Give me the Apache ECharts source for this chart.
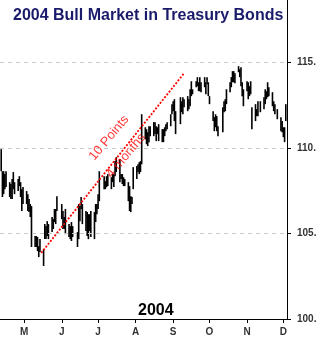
<!DOCTYPE html>
<html>
<head>
<meta charset="utf-8">
<script src="https://cdn.jsdelivr.net/npm/echarts@6/dist/echarts.min.js"></script>
<style>
  html, body { margin: 0; padding: 0; background: #fff; }
  #chart { width: 316px; height: 339px; }
</style>
</head>
<body>
<div id="chart"></div>
<script>
// --- data ---
const titleText = '2004 Bull Market in Treasury Bonds';
const yearText = '2004';
const monthStarts = ['2004-05-01', '2004-06-01', '2004-07-01', '2004-08-01', '2004-09-01', '2004-10-01', '2004-11-01', '2004-12-01'];
const monthLetters = ['J', 'F', 'M', 'A', 'M', 'J', 'J', 'A', 'S', 'O', 'N', 'D'];
const priceTicks = [100, 105, 110, 115];
const gridLevels = [105, 110, 115];

// daily bars: [date, low, high]
const bars = [
  ['2004-04-12', 108.64, 109.93], ['2004-04-13', 107.13, 108.64], ['2004-04-14', 107.30, 108.64], ['2004-04-15', 107.59, 108.47], ['2004-04-16', 107.71, 108.64],
  ['2004-04-19', 107.13, 108.00], ['2004-04-20', 107.01, 107.89], ['2004-04-21', 107.01, 108.18], ['2004-04-22', 107.59, 108.59], ['2004-04-23', 107.30, 108.00],
  ['2004-04-26', 107.48, 108.18], ['2004-04-27', 107.77, 108.35], ['2004-04-28', 107.13, 108.00], ['2004-04-29', 106.31, 107.59], ['2004-04-30', 106.72, 107.71],
  ['2004-05-03', 106.72, 107.48], ['2004-05-04', 106.31, 107.30], ['2004-05-05', 106.25, 107.01], ['2004-05-06', 105.96, 106.72], ['2004-05-07', 104.21, 106.60],
  ['2004-05-10', 104.21, 104.85], ['2004-05-11', 104.21, 104.85], ['2004-05-12', 103.97, 104.79], ['2004-05-13', 103.62, 104.26], ['2004-05-14', 103.91, 104.67],
  ['2004-05-17', 103.10, 104.09], ['2004-05-18', 104.67, 105.55], ['2004-05-19', 104.67, 105.43], ['2004-05-20', 104.85, 105.72], ['2004-05-21', 104.67, 105.55],
  ['2004-05-24', 105.08, 105.96], ['2004-05-25', 105.26, 105.84], ['2004-05-26', 105.67, 106.43], ['2004-05-27', 105.55, 106.43], ['2004-05-28', 106.31, 107.18],
  ['2004-06-01', 105.84, 106.72], ['2004-06-02', 105.26, 106.31], ['2004-06-03', 105.26, 105.96], ['2004-06-04', 104.96, 106.43],
  ['2004-06-07', 104.79, 105.55], ['2004-06-08', 104.67, 105.43], ['2004-06-09', 104.56, 105.67], ['2004-06-10', 104.79, 105.43],
  ['2004-06-14', 104.21, 105.08], ['2004-06-15', 104.67, 106.72], ['2004-06-16', 105.72, 106.60], ['2004-06-17', 106.43, 107.13], ['2004-06-18', 105.55, 106.72],
  ['2004-06-21', 105.14, 106.31], ['2004-06-22', 104.85, 106.25], ['2004-06-23', 104.67, 106.13], ['2004-06-24', 105.14, 106.13], ['2004-06-25', 104.79, 106.31],
  ['2004-06-28', 104.67, 106.25], ['2004-06-29', 105.67, 106.72], ['2004-06-30', 106.13, 106.72], ['2004-07-01', 106.43, 107.30], ['2004-07-02', 106.89, 108.64],
  ['2004-07-06', 107.59, 108.35], ['2004-07-07', 107.59, 108.06], ['2004-07-08', 107.71, 108.35], ['2004-07-09', 107.77, 108.47],
  ['2004-07-12', 107.59, 108.29], ['2004-07-13', 108.00, 108.47], ['2004-07-14', 107.71, 108.47], ['2004-07-15', 108.35, 109.23], ['2004-07-16', 108.59, 109.46],
  ['2004-07-19', 108.00, 109.35], ['2004-07-20', 108.18, 108.47], ['2004-07-21', 107.89, 108.47], ['2004-07-22', 107.77, 108.29], ['2004-07-23', 107.77, 108.18],
  ['2004-07-26', 106.89, 108.00], ['2004-07-27', 106.31, 107.77], ['2004-07-28', 106.25, 107.18], ['2004-07-29', 106.72, 107.13], ['2004-07-30', 107.59, 108.88],
  ['2004-08-02', 108.18, 108.94], ['2004-08-03', 108.59, 109.05], ['2004-08-04', 108.47, 109.17], ['2004-08-05', 108.59, 109.23], ['2004-08-06', 109.05, 111.97],
  ['2004-08-09', 110.51, 111.21], ['2004-08-10', 110.22, 111.10], ['2004-08-11', 110.11, 110.92], ['2004-08-12', 110.34, 111.27], ['2004-08-13', 110.69, 111.27],
  ['2004-08-16', 110.69, 111.51], ['2004-08-17', 110.81, 111.51], ['2004-08-18', 110.40, 111.27], ['2004-08-19', 110.81, 111.21], ['2004-08-20', 110.40, 111.39],
  ['2004-08-23', 110.34, 111.10], ['2004-08-24', 110.34, 111.10], ['2004-08-25', 110.69, 111.21], ['2004-08-26', 110.98, 111.39], ['2004-08-27', 111.10, 111.51],
  ['2004-08-30', 111.27, 111.97], ['2004-08-31', 111.97, 112.56], ['2004-09-01', 112.15, 112.73], ['2004-09-02', 111.57, 112.85], ['2004-09-03', 110.81, 112.15],
  ['2004-09-07', 111.39, 112.97], ['2004-09-08', 112.09, 112.73], ['2004-09-09', 111.97, 112.97], ['2004-09-10', 112.38, 112.85],
  ['2004-09-13', 112.15, 113.03], ['2004-09-14', 112.27, 112.85], ['2004-09-15', 112.44, 113.43], ['2004-09-16', 113.03, 113.90], ['2004-09-17', 113.14, 113.43],
  ['2004-09-20', 113.55, 113.90], ['2004-09-21', 113.61, 114.14], ['2004-09-22', 113.32, 113.84], ['2004-09-23', 113.32, 114.14], ['2004-09-24', 113.26, 113.84],
  ['2004-09-27', 113.55, 114.14], ['2004-09-28', 113.14, 113.84], ['2004-09-29', 113.73, 114.14], ['2004-09-30', 113.03, 113.84], ['2004-10-01', 112.56, 113.03],
  ['2004-10-04', 111.57, 112.15], ['2004-10-05', 110.98, 111.80], ['2004-10-06', 111.21, 111.97], ['2004-10-07', 110.98, 111.86], ['2004-10-08', 110.69, 111.27],
  ['2004-10-12', 110.92, 112.38], ['2004-10-13', 112.09, 112.73], ['2004-10-14', 112.15, 112.85], ['2004-10-15', 112.56, 113.43],
  ['2004-10-18', 113.26, 113.84], ['2004-10-19', 113.55, 114.14], ['2004-10-20', 113.84, 114.49], ['2004-10-21', 113.84, 114.49], ['2004-10-22', 113.79, 114.37],
  ['2004-10-25', 114.43, 114.78], ['2004-10-26', 114.14, 114.60], ['2004-10-27', 113.61, 114.72], ['2004-10-28', 113.03, 113.84], ['2004-10-29', 112.44, 113.43],
  ['2004-11-01', 113.32, 113.90], ['2004-11-02', 112.85, 113.84], ['2004-11-03', 113.03, 113.61], ['2004-11-04', 113.14, 113.90], ['2004-11-05', 111.10, 112.38],
  ['2004-11-08', 111.57, 112.56], ['2004-11-09', 111.86, 112.27], ['2004-11-10', 111.86, 112.73], ['2004-11-12', 112.09, 112.73],
  ['2004-11-15', 112.27, 112.97], ['2004-11-16', 112.56, 113.43], ['2004-11-17', 112.85, 113.32], ['2004-11-18', 112.97, 113.84], ['2004-11-19', 113.03, 113.55],
  ['2004-11-22', 112.44, 113.26], ['2004-11-23', 112.15, 112.73], ['2004-11-24', 111.97, 112.56], ['2004-11-26', 111.68, 112.27],
  ['2004-11-29', 110.98, 111.80], ['2004-11-30', 110.92, 111.57], ['2004-12-01', 110.63, 111.21], ['2004-12-02', 110.34, 111.21], ['2004-12-03', 111.57, 112.56]
];

// the red "10 points in 4 months" trend line and its notes
const trendLine = [['2004-05-15', 103.86], ['2004-09-10', 114.37]];
const notes = [['2004-07-10', 110.58, '10 Points'], ['2004-07-24', 109.55, '4 months']];

const font = 'Liberation Sans, Arial, sans-serif';
const toTime = s => echarts.time.parse(s).getTime();

const chart = echarts.init(document.getElementById('chart'));

chart.setOption({
  animation: false,
  backgroundColor: '#fff',
  title: [
    {
      text: titleText, left: 13, top: 8, padding: 0,
      textStyle: { fontFamily: font, fontSize: 16, fontWeight: 'bold', color: '#1b1b6b' }
    },
    {
      text: yearText, left: 138, top: 303, padding: 0,
      textStyle: { fontFamily: font, fontSize: 16, fontWeight: 'bold', color: '#000' }
    }
  ],
  // labels on the right run off the edge, as in the original
  grid: { left: 0, right: 29, top: 0, bottom: 20, containLabel: false, outerBoundsMode: 'none' },
  xAxis: {
    // dates as timestamps on a value axis so the month ticks can be placed exactly
    type: 'value',
    min: toTime('2004-04-11'),
    max: toTime('2004-12-04'),
    axisLine: { lineStyle: { color: '#000', width: 1 } },
    axisTick: { length: 4, lineStyle: { color: '#000' }, customValues: monthStarts.map(toTime) },
    axisLabel: {
      customValues: monthStarts.map(toTime),
      margin: 8,
      fontFamily: font, fontSize: 10, fontWeight: 'bold', color: '#333',
      formatter: v => monthLetters[new Date(v).getMonth()]
    },
    splitLine: { show: false }
  },
  yAxis: {
    type: 'value',
    position: 'right',
    min: 100,
    max: 118.65,
    axisLine: { show: true, lineStyle: { color: '#000', width: 1 } },
    axisTick: { show: true, length: 4, lineStyle: { color: '#000' }, customValues: priceTicks },
    axisLabel: {
      customValues: priceTicks,
      margin: 10,
      fontFamily: font, fontSize: 10, fontWeight: 'bold', color: '#333',
      formatter: v => v.toFixed(2)
    },
    splitLine: { show: false }
  },
  series: [
    {
      // dashed price levels behind the bars
      type: 'line',
      z: 1,
      data: [],
      markLine: {
        silent: true,
        symbol: 'none',
        label: { show: false },
        lineStyle: { color: '#c8c8c8', type: [4, 4], width: 1 },
        data: gridLevels.map(v => ({ yAxis: v }))
      }
    },
    {
      type: 'custom',
      z: 2,
      data: bars.map(b => [toTime(b[0]), b[1], b[2]]),
      encode: { x: 0, y: [1, 2] },
      renderItem: (params, api) => {
        const t = api.value(0);
        const lo = api.coord([t, api.value(1)]);
        const hi = api.coord([t, api.value(2)]);
        return {
          type: 'line',
          shape: { x1: lo[0], y1: lo[1], x2: hi[0], y2: hi[1] },
          style: { stroke: '#000', lineWidth: 1.6 }
        };
      }
    },
    {
      type: 'line',
      z: 3,
      data: trendLine.map(p => [toTime(p[0]), p[1]]),
      symbol: 'none',
      lineStyle: { color: '#ff0000', width: 1.8, type: [2, 1.6] }
    },
    {
      type: 'scatter',
      z: 4,
      symbolSize: 0,
      data: notes.map(n => ({ value: [toTime(n[0]), n[1]], name: n[2] })),
      label: {
        show: true,
        position: 'inside',
        rotate: 50,
        formatter: p => p.name,
        fontFamily: font, fontSize: 13, color: '#ff0000'
      }
    }
  ]
});
</script>
</body>
</html>
